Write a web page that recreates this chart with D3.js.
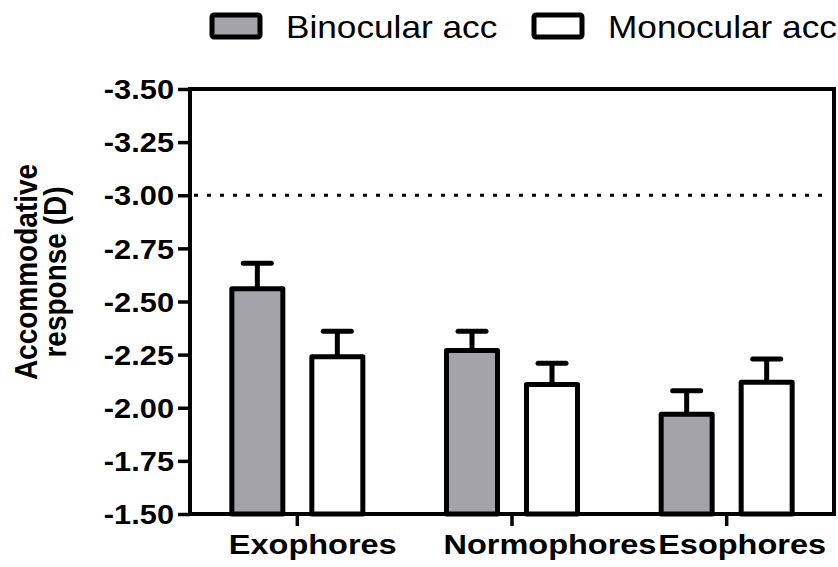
<!doctype html>
<html>
<head>
    <meta charset="utf-8">
    <title>Accommodative response</title>
    <style>
      body { margin: 0; background: #fff; }
      text { font-family: Arial, "Liberation Sans", sans-serif; fill: #000; }
    </style>
</head>
<body>
<div id="chart-area"></div>
<script src="https://cdn.jsdelivr.net/npm/d3@7"></script>
<script type="text/javascript">
  // data
  var categories = ['Exophores', 'Normophores', 'Esophores'];
  var series = ['Binocular acc', 'Monocular acc'];
  var binocular = [-2.56, -2.27, -1.97];
  var monocular = [-2.24, -2.11, -2.12];
  var binocularSem = [0.12, 0.09, 0.11];
  var monocularSem = [0.12, 0.10, 0.11];
  var yTicks = [-3.50, -3.25, -3.00, -2.75, -2.50, -2.25, -2.00, -1.75, -1.50];
  var refLine = -3.00;

  var colors = {'Binocular acc': '#a3a3a8', 'Monocular acc': '#ffffff'};
  var stretch = 1.14;

  var width = 838;
  var height = 567;
  var plot = {left: 190, right: 834, top: 89, bottom: 514};

  var svg = d3.select('#chart-area')
      .append('svg')
      .attr('width', width)
      .attr('height', height);

  var rows = [];
  categories.forEach(function(c, i) {
    rows.push({cat: c, key: series[0], value: binocular[i], sem: binocularSem[i]});
    rows.push({cat: c, key: series[1], value: monocular[i], sem: monocularSem[i]});
  });

  // Scale
  var x0 = d3.scaleBand()
      .domain(categories)
      .range([plot.left, plot.right])
      .padding(0);
  var x1 = d3.scaleBand()
      .domain(series)
      .range([x0.bandwidth() / 2 - 80, x0.bandwidth() / 2 + 80])
      .padding(0);
  var y = d3.scaleLinear()
      .domain([-1.5, -3.5])
      .range([plot.bottom, plot.top]);
  var barW = 51;

  // reference line
  svg.append('line')
      .attr('x1', plot.left + 4)
      .attr('x2', plot.right - 4)
      .attr('y1', y(refLine))
      .attr('y2', y(refLine))
      .attr('stroke', '#000')
      .attr('stroke-width', 3)
      .attr('stroke-dasharray', '4,9');

  // bars
  var bars = svg.selectAll('g.bar')
      .data(rows)
      .enter()
      .append('g')
      .attr('class', 'bar');

  function cx(d) {
    return x0(d.cat) + x1(d.key) + x1.bandwidth() / 2;
  }

  bars.append('line')
      .attr('x1', cx)
      .attr('x2', cx)
      .attr('y1', function(d) { return y(d.value); })
      .attr('y2', function(d) { return y(d.value - d.sem); })
      .attr('stroke', '#000')
      .attr('stroke-width', 5);
  bars.append('line')
      .attr('x1', function(d) { return cx(d) - 14; })
      .attr('x2', function(d) { return cx(d) + 14; })
      .attr('y1', function(d) { return y(d.value - d.sem); })
      .attr('y2', function(d) { return y(d.value - d.sem); })
      .attr('stroke', '#000')
      .attr('stroke-width', 5)
      .attr('stroke-linecap', 'round');
  bars.append('rect')
      .attr('x', function(d) { return cx(d) - barW / 2; })
      .attr('y', function(d) { return y(d.value); })
      .attr('width', barW)
      .attr('height', function(d) { return y(-1.5) - y(d.value); })
      .attr('fill', function(d) { return colors[d.key]; })
      .attr('stroke', '#000')
      .attr('stroke-width', 5)
      .attr('stroke-linejoin', 'round');

  // Axis
  var yAxis = svg.append('g')
      .attr('transform', 'translate(' + plot.left + ',0)')
      .call(d3.axisLeft(y)
          .tickValues(yTicks)
          .tickSize(12)
          .tickPadding(4)
          .tickFormat(function(d) { return d.toFixed(2); }));
  yAxis.select('.domain').remove();
  yAxis.selectAll('.tick line')
      .attr('stroke-width', 3.5);
  yAxis.selectAll('.tick text')
      .attr('font-size', '27px')
      .attr('font-weight', 'bold')
      .attr('font-family', 'Arial, "Liberation Sans", sans-serif')
      .attr('fill', '#000')
      .attr('dy', '0.36em')
      .attr('x', -16 / stretch)
      .attr('transform', 'scale(' + stretch + ',1)');

  var xAxis = svg.append('g')
      .attr('transform', 'translate(0,' + plot.bottom + ')')
      .call(d3.axisBottom(x0)
          .tickSize(12)
          .tickPadding(8));
  xAxis.select('.domain').remove();
  xAxis.selectAll('.tick line')
      .attr('stroke-width', 3.5);
  // labels start at the left edge of each group's first bar
  xAxis.selectAll('.tick text')
      .attr('font-size', '28.5px')
      .attr('font-weight', 'bold')
      .attr('font-family', 'Arial, "Liberation Sans", sans-serif')
      .attr('fill', '#000')
      .attr('dy', '0.71em')
      .attr('text-anchor', 'start')
      .attr('transform', 'scale(' + stretch + ',1)')
      .attr('x', function(d) {
        var first = {cat: d, key: series[0]};
        return (cx(first) - barW / 2 - 3 - x0(d) - x0.bandwidth() / 2) / stretch;
      });

  // frame
  svg.append('rect')
      .attr('x', plot.left)
      .attr('y', plot.top)
      .attr('width', plot.right - plot.left)
      .attr('height', plot.bottom - plot.top)
      .attr('fill', 'none')
      .attr('stroke', '#000')
      .attr('stroke-width', 4);

  // y title
  var titleY = 272;
  var yTitle = svg.append('g')
      .attr('transform', 'translate(0,' + titleY + ') scale(' + stretch + ',1)');
  yTitle.append('text')
      .attr('transform', 'translate(' + (37 / stretch) + ',0) rotate(-90)')
      .attr('text-anchor', 'middle')
      .attr('font-size', '28px')
      .attr('font-weight', 'bold')
      .text('Accommodative');
  yTitle.append('text')
      .attr('transform', 'translate(' + (66 / stretch) + ',0) rotate(-90)')
      .attr('text-anchor', 'middle')
      .attr('font-size', '28px')
      .attr('font-weight', 'bold')
      .text('response (D)');

  // Legend
  var legendX = [212, 534];
  var legend = svg.selectAll('g.legend')
      .data(series)
      .enter()
      .append('g')
      .attr('class', 'legend')
      .attr('transform', function(d, i) { return 'translate(' + legendX[i] + ',15)'; });
  legend.append('rect')
      .attr('width', 48)
      .attr('height', 22)
      .attr('rx', 2)
      .attr('fill', function(d) { return colors[d]; })
      .attr('stroke', '#000')
      .attr('stroke-width', 5);
  legend.append('text')
      .attr('transform', 'translate(74,23) scale(1.1,1)')
      .attr('font-size', '32px')
      .text(function(d) { return d; });
</script>
</body>
</html>
